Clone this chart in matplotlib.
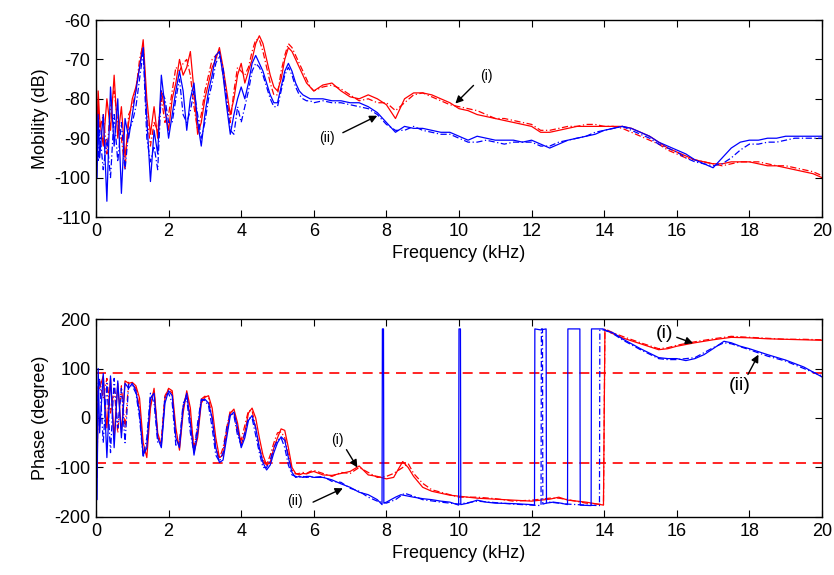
import numpy as np
import matplotlib
matplotlib.use("Agg")
import matplotlib.pyplot as plt

plt.rcParams["font.family"] = ["Liberation Sans", "DejaVu Sans"]
plt.rcParams["axes.unicode_minus"] = False

# ---- frequency grids (kHz) ----
f_lo = [0, 0.03, 0.06, 0.1, 0.2, 0.3, 0.4, 0.5, 0.6, 0.7, 0.8, 0.9, 1.0,
        1.1, 1.2, 1.3, 1.4, 1.5, 1.6, 1.7, 1.8, 1.9, 2.0,
        2.1, 2.2, 2.3, 2.4, 2.5, 2.6, 2.7, 2.8, 2.9, 3.0,
        3.1, 3.2, 3.3, 3.4, 3.5, 3.6, 3.7, 3.8, 3.9, 4.0,
        4.1, 4.2, 4.3, 4.4, 4.5, 4.6, 4.7, 4.8, 4.9, 5.0,
        5.1, 5.2, 5.3, 5.4, 5.5, 5.6, 5.7, 5.8, 5.9, 6.0]
f_hi = [6.25, 6.5, 6.75, 7.0, 7.25, 7.5, 7.75, 8.0, 8.25, 8.5, 8.75, 9.0,
        9.25, 9.5, 9.75, 10.0, 10.25, 10.5, 10.75, 11.0, 11.25, 11.5, 11.75, 12.0,
        12.25, 12.5, 12.75, 13.0, 13.25, 13.5, 13.75, 14.0, 14.25, 14.5, 14.75, 15.0,
        15.25, 15.5, 15.75, 16.0, 16.25, 16.5, 16.75, 17.0, 17.25, 17.5, 17.75, 18.0,
        18.25, 18.5, 18.75, 19.0, 19.25, 19.5, 19.75, 20.0]

# ---- mobility (dB) ----
mob_i_lo = [-66, -95, -78, -85, -92, -80, -88, -74, -90, -82, -95, -86, -80,
            -77, -72, -65, -80, -89, -82, -90, -78, -83, -88,
            -80, -76, -70, -74, -72, -68, -78, -89, -86, -80,
            -76, -72, -70, -67, -72, -78, -84, -80, -74, -71,
            -76, -73, -70, -66, -64, -66, -70, -74, -77, -78,
            -75, -70, -67, -68, -70, -72, -74, -76, -77, -78]
mob_i2_lo = [-70, -90, -82, -88, -84, -94, -82, -78, -86, -90, -98, -84, -82,
             -78, -70, -66, -84, -92, -86, -88, -80, -86, -84,
             -78, -72, -73, -71, -70, -74, -82, -88, -84, -78,
             -74, -70, -69, -68, -74, -80, -86, -78, -72, -73,
             -74, -72, -68, -65, -65, -68, -72, -76, -79, -79,
             -73, -69, -66, -67, -69, -71, -73, -75, -77, -78]
mob_ii_lo = [-72, -100, -84, -95, -84, -106, -77, -92, -80, -104, -85, -90, -84,
             -78, -72, -67, -85, -101, -88, -94, -74, -82, -90,
             -84, -78, -73, -78, -88, -80, -76, -86, -92, -84,
             -78, -74, -69, -68, -74, -82, -89, -84, -80, -77,
             -80, -76, -71, -69, -71, -73, -76, -79, -81, -81,
             -77, -73, -71, -73, -76, -78, -79, -79.5, -80, -80]
mob_ii2_lo = [-75, -92, -96, -88, -98, -90, -100, -84, -96, -86, -98, -88, -86,
              -82, -75, -68, -90, -96, -92, -98, -78, -80, -86,
              -86, -80, -75, -84, -86, -83, -78, -84, -90, -86,
              -80, -76, -71, -69, -72, -80, -88, -89, -82, -86,
              -82, -78, -73, -71, -72, -74, -77, -80, -82, -82,
              -78, -74, -72, -74, -77, -79, -80, -80.5, -80.5, -81]

mob_i_hi = [-76.5, -76, -78, -79.5, -80, -79, -80, -81.5, -85, -80, -78.5, -78.5,
            -79, -80, -81, -82.5, -83, -84, -84.5, -85, -85.5, -86, -86.5, -87,
            -88.5, -88.5, -88, -87.5, -87, -87, -87, -87, -87, -87, -87.5, -88.5,
            -89.5, -91, -92.5, -93.5, -94.5, -95.5, -96, -96.5, -96.5, -96, -96, -96,
            -96.5, -97, -97, -97.5, -98, -98.5, -99, -100]
mob_i2_hi = [-77, -76.5, -77.5, -79, -80.5, -80, -81, -81, -83, -81, -79, -78.5,
             -79.5, -80.5, -81.5, -82, -82.5, -83, -84, -85, -85, -85.5, -86, -86.5,
             -88, -88, -87.5, -87, -87, -86.5, -86.5, -87, -87, -87.5, -88.5, -89.5,
             -90.5, -91.5, -93, -94, -95, -95.5, -96, -96.5, -97, -96.5, -96, -96,
             -96, -96.5, -97, -97, -97.5, -98, -98.5, -99.5]
mob_ii_hi = [-80, -80.5, -80.5, -81, -81, -82, -83.5, -86, -88.5, -87, -87.5, -87.5,
             -88, -88.5, -88.5, -89.5, -90.5, -89.5, -90, -90.5, -90.5, -90.5, -91, -90.5,
             -91.5, -92.5, -91.5, -90.5, -90, -89.5, -89, -88, -87.5, -87, -87.5, -88.5,
             -89.5, -91, -92, -93, -94, -95.5, -96.5, -97.5, -95, -92.5, -91, -90.5,
             -90.5, -90, -90, -89.5, -89.5, -89.5, -89.5, -89.5]
mob_ii2_hi = [-80.5, -81, -81, -81.5, -82, -82.5, -84, -86.5, -88, -88, -87, -88,
              -88.5, -89, -89, -90, -91, -91, -90.5, -91, -91.5, -91, -91, -91,
              -92, -92, -91, -90.5, -90, -89.5, -88.5, -88, -87.5, -87, -88, -89,
              -90, -91.5, -92.5, -93.5, -95, -96, -96.5, -97, -96.5, -95, -93, -91.5,
              -91.5, -91, -91, -90.5, -90, -90, -90, -90]

# ---- phase (degree) ----
ph_i_lo = [155, -120, 60, 60, 85, -20, 80, -40, 70, -30, 75, 70, 72,
           65, 40, -50, -80, 20, 60, -30, -55, 40, 60,
           55, -20, -65, 10, 55, 20, -70, -40, 30, 42,
           45, 20, -40, -80, -75, -30, 10, 18, -10, -55,
           -30, 10, 20, 0, -40, -75, -95, -90, -60, -40,
           -22, -25, -60, -100, -112, -115, -112, -113, -110, -108]
ph_i2_lo = [150, -80, 70, 75, 40, 80, 10, 60, -30, 65, -20, 72, 68,
            60, 20, -70, -60, 30, 55, -40, -45, 45, 58,
            50, -40, -55, 25, 50, 0, -60, -20, 38, 44,
            40, 0, -60, -82, -60, -20, 15, 10, -30, -45,
            -15, 15, 15, -20, -60, -85, -95, -75, -50, -30,
            -28, -40, -75, -105, -113, -112, -110, -112, -108, -106]
ph_ii_lo = [140, -165, 100, -30, 90, -80, 85, -60, 75, -40, 70, 60, 70,
            55, 10, -75, -60, 40, 50, -40, -60, 30, 55,
            45, -40, -60, 20, 50, -10, -75, -30, 35, 38,
            30, 0, -60, -90, -85, -40, 5, 12, -20, -60,
            -40, -5, 5, -20, -60, -90, -105, -95, -70, -50,
            -38, -45, -80, -110, -120, -118, -120, -118, -118, -120]
ph_ii2_lo = [145, -100, 60, 80, -50, 70, -70, 80, -20, 60, -50, 68, 65,
             50, 0, -80, -40, 50, 30, -50, -50, 45, 50,
             30, -55, -50, 30, 40, -30, -70, -10, 38, 35,
             25, -20, -75, -88, -70, -20, 10, 5, -35, -55,
             -30, 0, 0, -35, -70, -100, -100, -85, -60, -45,
             -40, -60, -95, -115, -118, -120, -118, -120, -119, -120]

f_ph_i = [6.25, 6.5, 6.75, 7.0, 7.25, 7.5, 7.75, 8.0, 8.2, 8.45, 8.6, 8.75, 9.0, 9.25,
          9.5, 9.75, 10.0, 10.5, 11.0, 11.5, 12.0, 12.5, 12.75, 13.0, 13.5, 13.98,
          14.02, 14.25, 14.5, 15.0, 15.5, 15.75, 16.0, 16.5, 17.0, 17.5, 18.0, 18.5,
          19.0, 19.5, 20.0]
ph_i_hi = [-115, -116, -112, -108, -97, -115, -118, -123, -120, -88, -100, -118, -140,
           -148, -152, -156, -158, -162, -164, -166, -168, -164, -160, -166, -170, -176,
           178, 170, 162, 150, 138, 140, 145, 152, 158, 163, 162, 160, 159, 158, 157]
ph_i2_hi = [-112, -118, -110, -112, -100, -110, -120, -118, -112, -100, -92, -112, -132,
            -145, -150, -155, -160, -160, -163, -168, -166, -162, -162, -165, -172, -175,
            180, 172, 165, 152, 140, 142, 147, 154, 160, 165, 163, 161, 159, 159, 158]

f_ph_ii = [6.25, 6.5, 6.75, 7.0, 7.25, 7.5, 7.75, 7.88, 7.89, 7.92, 7.93, 8.0, 8.25,
           8.4, 8.75, 9.0, 9.25, 9.5, 9.75, 9.99, 10.0, 10.04, 10.05, 10.25, 10.5,
           10.75, 11.0, 11.5, 12.0, 12.08, 12.09, 12.25, 12.4, 12.41, 12.6, 12.8,
           12.99, 13.0, 13.33, 13.34, 13.64, 13.65, 13.97, 14.0, 14.25, 14.5, 15.0,
           15.5, 15.75, 16.0, 16.25, 16.5, 16.75, 17.0, 17.3, 17.5, 17.75, 18.0,
           18.5, 19.0, 19.5, 20.0]
ph_ii_hi = [-120, -125, -133, -140, -150, -155, -165, -175, 180, 180, -172, -170, -160,
            -155, -160, -163, -165, -168, -170, -176, 180, 180, -175, -172, -166,
            -170, -172, -173, -175, -176, 180, 178, 180, -172, -170, -172,
            -175, 180, 180, -176, -177, 180, 180, 178, 172, 160, 140,
            122, 120, 120, 116, 120, 128, 140, 155, 152, 145, 140,
            128, 117, 103, 83]
f_ph_ii2 = [6.25, 6.5, 6.75, 7.0, 7.25, 7.5, 7.75, 8.0, 8.25, 8.5, 8.75, 9.0, 9.5,
            10.0, 10.5, 11.0, 11.5, 12.0, 12.26, 12.27, 12.3, 12.31, 12.5, 13.0, 13.5,
            13.87, 13.88, 14.0, 14.25, 14.5, 15.0, 15.5, 15.75, 16.0, 16.5, 17.0,
            17.3, 17.5, 18.0, 18.5, 19.0, 19.5, 20.0]
ph_ii2_hi = [-118, -128, -130, -142, -148, -160, -168, -172, -165, -152, -158, -165, -170,
             -174, -168, -171, -174, -176, -177, 180, 180, -174, -170, -174, -176,
             -177, 178, 178, 170, 158, 138, 120, 118, 118, 122, 142,
             152, 150, 138, 125, 115, 100, 85]

RED = "#ff0000"
BLUE = "#0000ff"
DASHDOT = (0, (5, 2, 1, 2))
lw = 0.9


def label_arrow(ax, text, txt_xy, start, tip, size):
    # label text plus a separate black arrow pointing at the curve
    ax.text(txt_xy[0], txt_xy[1], text, fontsize=size, ha="center", va="center")
    ax.annotate("", xy=tip, xytext=start,
                arrowprops=dict(arrowstyle="-|>", color="k", lw=1,
                                shrinkA=0, shrinkB=0, mutation_scale=11))


fig = plt.figure(figsize=(8.34, 5.75), dpi=100)
ax1 = fig.add_axes([0.1151, 0.6226, 0.8705, 0.3426])
ax2 = fig.add_axes([0.1151, 0.1009, 0.8705, 0.3443])

# top: mobility
ax1.plot(f_lo + f_hi, mob_i2_lo + mob_i2_hi, color=RED, lw=lw, ls=DASHDOT)
ax1.plot(f_lo + f_hi, mob_i_lo + mob_i_hi, color=RED, lw=lw)
ax1.plot(f_lo + f_hi, mob_ii2_lo + mob_ii2_hi, color=BLUE, lw=lw, ls=DASHDOT)
ax1.plot(f_lo + f_hi, mob_ii_lo + mob_ii_hi, color=BLUE, lw=lw)
ax1.set_xlim(0, 20)
ax1.set_ylim(-110, -60)
ax1.set_yticks(np.arange(-110, -59, 10))
ax1.set_ylabel("Mobility (dB)", fontsize=13)
label_arrow(ax1, "(i)", (10.75, -74.3), (10.4, -76.6), (9.9, -81.2), 10)
label_arrow(ax1, "(ii)", (6.35, -90.0), (6.8, -88.6), (7.75, -84.3), 10)

# bottom: phase
ax2.axhline(90, color=RED, lw=1.2, ls=(0, (6, 4)))
ax2.axhline(-90, color=RED, lw=1.2, ls=(0, (6, 4)))
ax2.plot(f_lo + f_ph_i, ph_i2_lo + ph_i2_hi, color=RED, lw=lw, ls=DASHDOT)
ax2.plot(f_lo + f_ph_i, ph_i_lo + ph_i_hi, color=RED, lw=lw)
ax2.plot(f_lo + f_ph_ii2, ph_ii2_lo + ph_ii2_hi, color=BLUE, lw=lw, ls=DASHDOT)
ax2.plot(f_lo + f_ph_ii, ph_ii_lo + ph_ii_hi, color=BLUE, lw=lw)
ax2.set_xlim(0, 20)
ax2.set_ylim(-200, 200)
ax2.set_yticks([-200, -100, 0, 100, 200])
ax2.set_ylabel("Phase (degree)", fontsize=13)
label_arrow(ax2, "(i)", (6.64, -45), (6.9, -64), (7.2, -100), 10)
label_arrow(ax2, "(ii)", (5.48, -167), (5.98, -170), (6.8, -142), 10)
label_arrow(ax2, "(i)", (15.67, 170), (16.0, 163), (16.45, 151), 14)
label_arrow(ax2, "(ii)", (17.74, 66), (17.96, 88), (18.25, 128), 14)

for ax in (ax1, ax2):
    ax.set_xticks(np.arange(0, 21, 2))
    ax.set_xlabel("Frequency (kHz)", fontsize=13, labelpad=4)
    ax.tick_params(direction="in", top=True, right=True, labelsize=13, length=5,
                   width=0.8, pad=4)
    for s in ax.spines.values():
        s.set_linewidth(1.0)

fig.savefig("out.png", dpi=100)
